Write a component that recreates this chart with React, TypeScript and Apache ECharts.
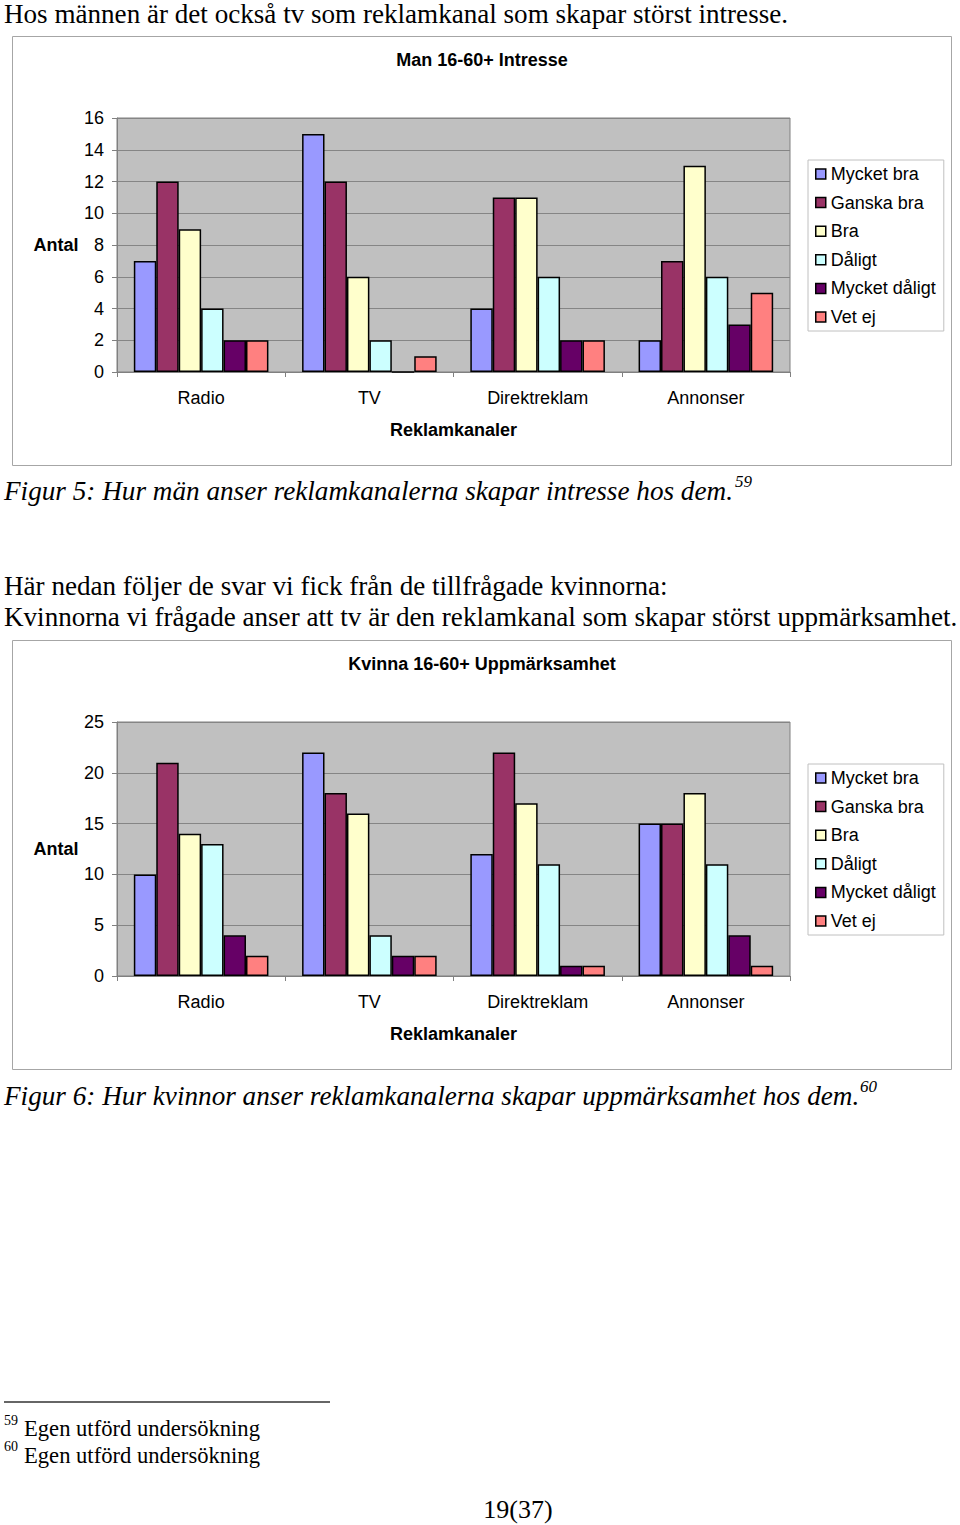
import React, { useEffect, useRef } from "react";
import * as echarts from "echarts";

const categories = ["Radio", "TV", "Direktreklam", "Annonser"];
const seriesNames = ["Mycket bra", "Ganska bra", "Bra", "Dåligt", "Mycket dåligt", "Vet ej"];
const seriesColors = ["#9999ff", "#993366", "#ffffcc", "#ccffff", "#660066", "#ff8080"];

// Man 16-60+ Intresse (per series, values for Radio, TV, Direktreklam, Annonser)
const menMycketBra = [7, 15, 4, 2];
const menGanskaBra = [12, 12, 11, 7];
const menBra = [9, 6, 11, 13];
const menDaligt = [4, 2, 6, 6];
const menMycketDaligt = [2, 0, 2, 3];
const menVetEj = [2, 1, 2, 5];

// Kvinna 16-60+ Uppmärksamhet
const womenMycketBra = [10, 22, 12, 15];
const womenGanskaBra = [21, 18, 22, 15];
const womenBra = [14, 16, 17, 18];
const womenDaligt = [13, 4, 11, 11];
const womenMycketDaligt = [4, 2, 1, 4];
const womenVetEj = [2, 2, 1, 1];

const menTicks = { min: 0, max: 16, interval: 2 };
const womenTicks = { min: 0, max: 25, interval: 5 };

const SANS = "'Liberation Sans', Arial, sans-serif";
const SERIF = "'Liberation Serif', 'Times New Roman', serif";
const FS = 18;

export default function App() {
  const ref = useRef<HTMLDivElement>(null);
  useEffect(() => {
    if (!ref.current) return;
    const chart = echarts.init(ref.current, undefined, { renderer: "svg" });
    const menData = [menMycketBra, menGanskaBra, menBra, menDaligt, menMycketDaligt, menVetEj];
    const womenData = [womenMycketBra, womenGanskaBra, womenBra, womenDaligt, womenMycketDaligt, womenVetEj];

    const grids = [
      { left: 117, top: 118, width: 673, height: 254 },
      { left: 117, top: 722, width: 673, height: 254 },
    ].map((g) => ({ ...g, show: true, backgroundColor: "#c0c0c0", borderColor: "#808080", borderWidth: 1, containLabel: false }));

    const mkX = (i: number) => ({
      type: "category",
      gridIndex: i,
      data: categories,
      axisLine: { show: true, lineStyle: { color: "#808080", width: 1 } },
      axisTick: { show: true, length: 5, lineStyle: { color: "#808080" } },
      axisLabel: { color: "#000", fontFamily: SANS, fontSize: FS, margin: 17 },
      name: "Reklamkanaler",
      nameLocation: "middle",
      nameGap: 49,
      nameTextStyle: { color: "#000", fontFamily: SANS, fontSize: FS, fontWeight: "bold" },
    });
    const mkY = (i: number, t: { min: number; max: number; interval: number }) => ({
      type: "value",
      gridIndex: i,
      min: t.min,
      max: t.max,
      interval: t.interval,
      axisLine: { show: true, lineStyle: { color: "#808080", width: 1 } },
      axisTick: { show: true, length: 5, lineStyle: { color: "#808080" } },
      axisLabel: { color: "#000", fontFamily: SANS, fontSize: FS, margin: 13 },
      splitLine: { show: true, lineStyle: { color: "#858585", width: 1 } },
    });

    const series: any[] = [];
    [menData, womenData].forEach((dataset, gi) => {
      dataset.forEach((vals, si) => {
        series.push({
          type: "bar",
          name: seriesNames[si],
          xAxisIndex: gi,
          yAxisIndex: gi,
          data: vals,
          barGap: "0%",
          barCategoryGap: "20%",
          itemStyle: { color: seriesColors[si], borderColor: "#000", borderWidth: 1.5 },
        });
      });
    });

    const mkLegend = (top: number) => ({
      orient: "vertical",
      left: 808,
      top,
      data: seriesNames,
      backgroundColor: "#fff",
      borderColor: "#c0c0c0",
      borderWidth: 1,
      padding: [4, 8, 4, 7],
      itemWidth: 10,
      itemHeight: 10,
      itemGap: 8.6,
      icon: "rect",
      selectedMode: false,
      itemStyle: { borderColor: "#000", borderWidth: 1.5 },
      textStyle: { color: "#000", fontFamily: SANS, fontSize: FS, lineHeight: 20, padding: [0, 0, 0, 0] },
    });

    const txt = (text: string, x: number, y: number, o: any = {}) => ({
      type: "text",
      x,
      y,
      style: {
        text,
        fill: "#000",
        font: o.font,
        textAlign: o.align || "left",
        textVerticalAlign: "middle",
      },
    });

    const graphic: any[] = [
      { type: "rect", shape: { x: 12.5, y: 36.5, width: 939, height: 429 }, style: { fill: "none", stroke: "#a6a6a6", lineWidth: 1 } },
      { type: "rect", shape: { x: 12.5, y: 640.5, width: 939, height: 429 }, style: { fill: "none", stroke: "#a6a6a6", lineWidth: 1 } },
      txt("Hos männen är det också tv som reklamkanal som skapar störst intresse.", 4, 14, { font: `27.1px ${SERIF}` }),
      txt("Man 16-60+ Intresse", 482, 60, { font: `bold ${FS}px ${SANS}`, align: "center" }),
      txt("Antal", 56, 245, { font: `bold ${FS}px ${SANS}`, align: "center" }),
      txt("Figur 5: Hur män anser reklamkanalerna skapar intresse hos dem.", 4, 491, { font: `italic 27.2px ${SERIF}` }),
      txt("59", 735, 481, { font: `italic 17px ${SERIF}` }),
      txt("Här nedan följer de svar vi fick från de tillfrågade kvinnorna:", 4, 586, { font: `27.1px ${SERIF}` }),
      txt("Kvinnorna vi frågade anser att tv är den reklamkanal som skapar störst uppmärksamhet.", 4, 617, { font: `27.1px ${SERIF}` }),
      txt("Kvinna 16-60+ Uppmärksamhet", 482, 664, { font: `bold ${FS}px ${SANS}`, align: "center" }),
      txt("Antal", 56, 849, { font: `bold ${FS}px ${SANS}`, align: "center" }),
      txt("Figur 6: Hur kvinnor anser reklamkanalerna skapar uppmärksamhet hos dem.", 4, 1096, { font: `italic 27.2px ${SERIF}` }),
      txt("60", 860, 1086, { font: `italic 17px ${SERIF}` }),
      { type: "line", shape: { x1: 4, y1: 1402, x2: 330, y2: 1402 }, style: { stroke: "#333", lineWidth: 1.5 } },
      txt("59", 4, 1420, { font: `14px ${SERIF}` }),
      txt("Egen utförd undersökning", 24, 1428, { font: `22.6px ${SERIF}` }),
      txt("60", 4, 1446, { font: `14px ${SERIF}` }),
      txt("Egen utförd undersökning", 24, 1455, { font: `22.6px ${SERIF}` }),
      txt("19(37)", 518, 1509, { font: `26px ${SERIF}`, align: "center" }),
    ];

    chart.setOption({
      animation: false,
      backgroundColor: "#fff",
      grid: grids,
      xAxis: [mkX(0), mkX(1)],
      yAxis: [mkY(0, menTicks), mkY(1, womenTicks)],
      legend: [mkLegend(160), mkLegend(764)],
      series,
      graphic,
    });
    return () => chart.dispose();
  }, []);
  return <div ref={ref} style={{ position: "absolute", left: 0, top: 0, width: 960, height: 1525 }} />;
}
